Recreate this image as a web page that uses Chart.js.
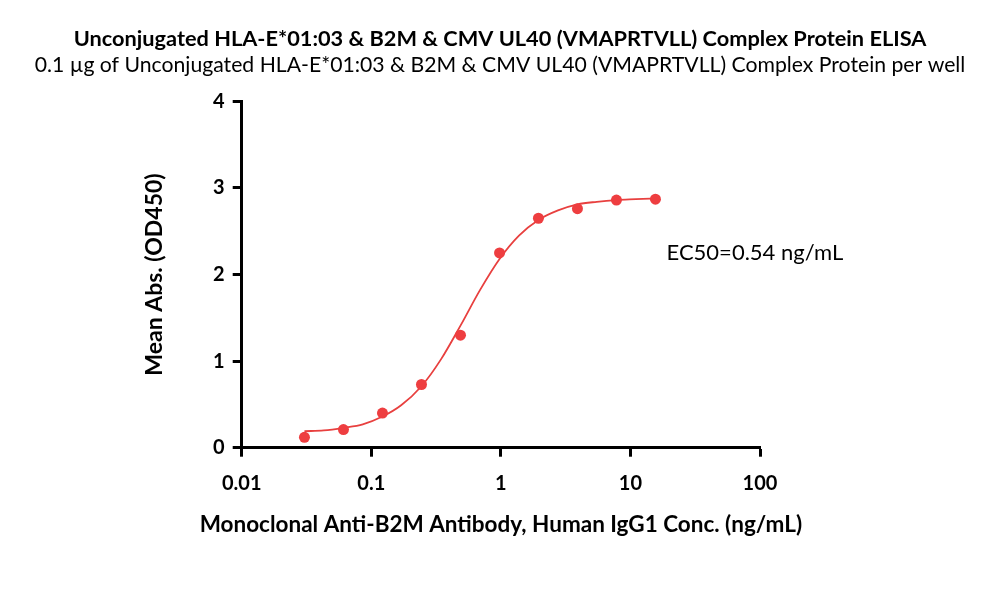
<!DOCTYPE html>
<html>
<head>
<meta charset="utf-8">
<script src="https://cdn.jsdelivr.net/npm/chart.js@4"></script>
<style>
  html, body { margin: 0; padding: 0; background: #fff; }
  #wrap { width: 1000px; height: 595px; }
</style>
</head>
<body>
<div id="wrap"><canvas id="elisa"></canvas></div>
<script>
// measured points (ng/mL, OD450)
const conc = [0.0305, 0.061, 0.122, 0.244, 0.488, 0.977, 1.95, 3.9, 7.8, 15.6];
const meanAbs = [0.12, 0.21, 0.40, 0.73, 1.30, 2.25, 2.65, 2.76, 2.86, 2.87];

// fitted curve
const curveX = [0.0305, 0.043, 0.061, 0.086, 0.122, 0.17, 0.244, 0.345, 0.488, 0.69, 0.977, 1.38, 1.95, 2.76, 3.9, 5.5, 7.8, 11, 15.6];
const curveY = [0.19, 0.20, 0.23, 0.27, 0.36, 0.49, 0.71, 1.02, 1.41, 1.82, 2.18, 2.45, 2.63, 2.74, 2.81, 2.84, 2.86, 2.87, 2.88];

const xTicks = [0.01, 0.1, 1, 10, 100];
const xTickLabels = ['0.01', '0.1', '1', '10', '100'];
const yTicks = [0, 1, 2, 3, 4];

const xTitle = 'Monoclonal Anti-B2M Antibody, Human IgG1 Conc. (ng/mL)';
const ec50Text = 'EC50=0.54 ng/mL';
const ec50Pos = [19, 2.25];

const FONT = 'Lato, "Open Sans", sans-serif';
const RED = '#ee3e40';

// EC50 note inside the plot + x axis title (the scale title gets squeezed to the plot width)
const extraText = {
    id: 'extraText',
    afterDraw(chart) {
        const ctx = chart.ctx;
        const area = chart.chartArea;
        ctx.save();
        ctx.fillStyle = '#000';
        ctx.textBaseline = 'middle';

        ctx.font = '22px ' + FONT;
        ctx.textAlign = 'left';
        ctx.fillText(ec50Text, chart.scales.x.getPixelForValue(ec50Pos[0]), chart.scales.y.getPixelForValue(ec50Pos[1]));

        ctx.font = 'bold 22.5px ' + FONT;
        ctx.textAlign = 'center';
        ctx.fillText(xTitle, (area.left + area.right) / 2, 525);
        ctx.restore();
    }
};

const axisStyle = {
    grid: {
        drawOnChartArea: false,
        drawTicks: true,
        tickLength: 9,
        tickWidth: 3,
        color: '#000'
    },
    border: { display: true, color: '#000', width: 3 }
};

const ctx = document.getElementById('elisa').getContext('2d');
const chart = new Chart(ctx, {
    type: 'line',
    data: {
        datasets: [{
            label: 'Mean Abs.',
            data: conc.map((c, i) => ({ x: c, y: meanAbs[i] })),
            showLine: false,
            pointRadius: 5.5,
            pointBackgroundColor: RED,
            pointBorderColor: RED,
            pointBorderWidth: 0
        }, {
            label: 'Fit',
            data: curveX.map((c, i) => ({ x: c, y: curveY[i] })),
            borderColor: '#e8403f',
            borderWidth: 1.8,
            pointRadius: 0,
            cubicInterpolationMode: 'monotone',
            fill: false
        }]
    },
    options: {
        responsive: true,
        maintainAspectRatio: false,
        animation: false,
        layout: {
            padding: 0
        },
        plugins: {
            legend: { display: false },
            tooltip: { enabled: false },
            title: {
                display: true,
                text: 'Unconjugated HLA-E*01:03 & B2M & CMV UL40 (VMAPRTVLL) Complex Protein ELISA',
                color: '#000',
                font: { family: FONT, size: 21.75, weight: 'bold', lineHeight: 1.1 },
                padding: { top: 27, bottom: 2 }
            },
            subtitle: {
                display: true,
                text: '0.1 µg of Unconjugated HLA-E*01:03 & B2M & CMV UL40 (VMAPRTVLL) Complex Protein per well',
                color: '#000',
                font: { family: FONT, size: 21.2, lineHeight: 1.2 },
                padding: { top: 0, bottom: 23 }
            }
        },
        scales: {
            x: {
                type: 'logarithmic',
                min: 0.01,
                max: 100,
                afterBuildTicks: function(scale) {
                    scale.ticks = xTicks.map(v => ({ value: v }));
                },
                afterFit: function(scale) {
                    scale.height = 147.3;
                },
                ticks: {
                    color: '#000',
                    font: { family: FONT, size: 20, weight: 'bold' },
                    padding: 15,
                    maxRotation: 0,
                    autoSkip: false,
                    callback: function(value) {
                        const i = xTicks.indexOf(value);
                        return i >= 0 ? xTickLabels[i] : '';
                    }
                },
                grid: axisStyle.grid,
                border: axisStyle.border
            },
            y: {
                min: 0,
                max: 4,
                afterBuildTicks: function(scale) {
                    scale.ticks = yTicks.map(v => ({ value: v }));
                },
                afterFit: function(scale) {
                    scale.width = 241.7;
                },
                ticks: {
                    color: '#000',
                    font: { family: FONT, size: 20, weight: 'bold' },
                    padding: 8
                },
                grid: axisStyle.grid,
                border: axisStyle.border,
                title: {
                    display: true,
                    text: 'Mean Abs. (OD450)',
                    color: '#000',
                    font: { family: FONT, size: 23, weight: 'bold' },
                    padding: { top: 141, bottom: 0 }
                }
            },
            // empty right margin so the titles stay centred on the page
            yRight: {
                position: 'right',
                display: true,
                min: 0,
                max: 4,
                ticks: { display: false },
                grid: { display: false },
                border: { display: false },
                afterFit: function(scale) {
                    scale.width = 240;
                }
            }
        }
    },
    plugins: [extraText]
});
</script>
</body>
</html>
